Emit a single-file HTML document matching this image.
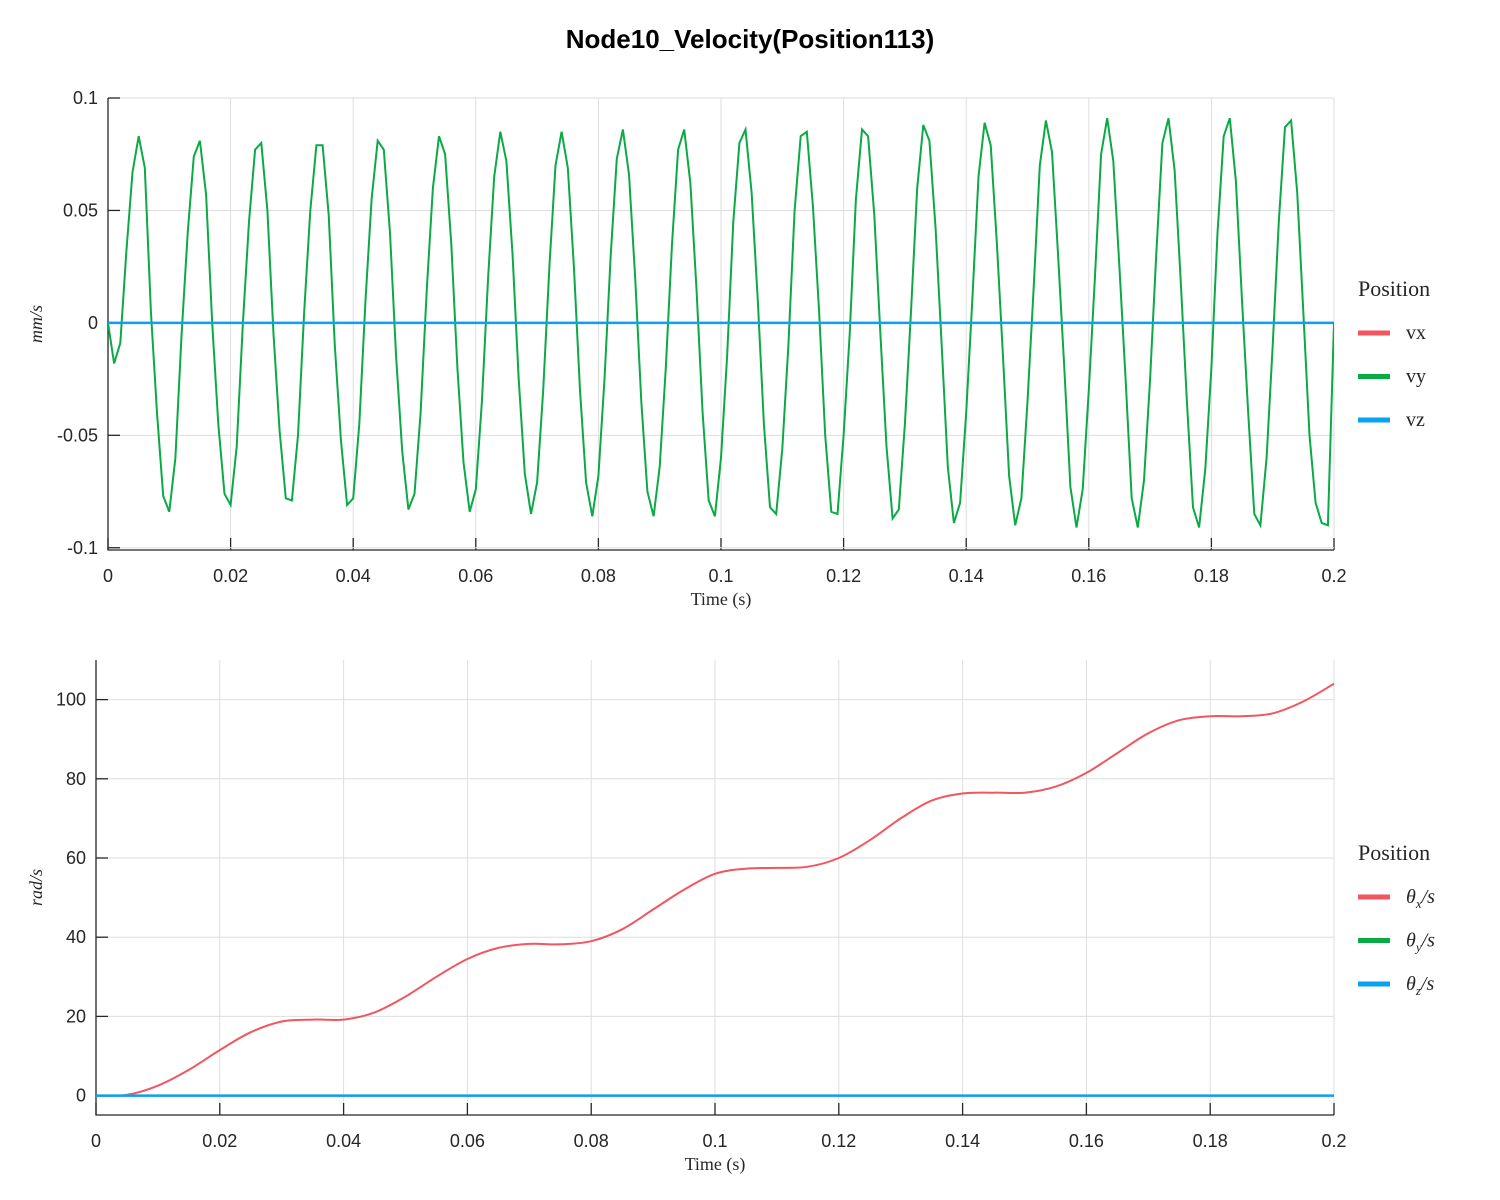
<!DOCTYPE html>
<html><head><meta charset="utf-8"><style>
body{margin:0;background:#fff;width:1500px;height:1200px;overflow:hidden}
svg{display:block}
.tk{font-family:"Liberation Sans",sans-serif;font-size:18px;fill:#262626}
.ser{font-family:"Liberation Serif",serif;fill:#262626}
</style></head><body>
<svg id="chart" width="1500" height="1200">
<text x="750" y="48" text-anchor="middle" font-family="Liberation Sans,sans-serif" font-weight="bold" font-size="26" fill="#000">Node10_Velocity(Position113)</text>
<g id="top"></g>
<g id="bot"></g>
</svg>
<script>
const timeStep = 0.001;
const vy = [0,-0.018,-0.009,0.032,0.067,0.083,0.069,0.005,-0.040,-0.077,
-0.084,-0.060,-0.005,0.040,0.074,0.081,0.057,0.000,-0.045,-0.076,
-0.081,-0.055,0.000,0.045,0.077,0.080,0.050,-0.005,-0.048,-0.078,
-0.079,-0.050,0.005,0.050,0.079,0.079,0.048,-0.010,-0.052,-0.081,
-0.078,-0.045,0.010,0.055,0.081,0.077,0.040,-0.015,-0.057,-0.083,
-0.076,-0.040,0.015,0.060,0.083,0.075,0.035,-0.020,-0.062,-0.084,
-0.074,-0.035,0.020,0.065,0.085,0.072,0.030,-0.025,-0.067,-0.085,
-0.071,-0.030,0.025,0.070,0.085,0.069,0.025,-0.030,-0.071,-0.086,
-0.068,-0.025,0.030,0.073,0.086,0.066,0.020,-0.035,-0.075,-0.086,
-0.064,-0.020,0.035,0.077,0.086,0.062,0.015,-0.040,-0.079,-0.086,
-0.060,-0.015,0.045,0.080,0.086,0.058,0.010,-0.045,-0.082,-0.085,
-0.056,-0.010,0.050,0.083,0.085,0.052,0.005,-0.050,-0.084,-0.085,
-0.050,-0.005,0.055,0.086,0.083,0.048,-0.005,-0.055,-0.087,-0.083,
-0.045,0.005,0.060,0.088,0.081,0.042,-0.010,-0.064,-0.089,-0.080,
-0.040,0.010,0.065,0.089,0.079,0.036,-0.015,-0.068,-0.090,-0.078,
-0.035,0.015,0.070,0.090,0.076,0.030,-0.020,-0.073,-0.091,-0.074,
-0.030,0.020,0.075,0.091,0.072,0.025,-0.025,-0.078,-0.091,-0.070,
-0.025,0.030,0.080,0.091,0.068,0.018,-0.035,-0.082,-0.091,-0.065,
-0.020,0.040,0.083,0.091,0.063,0.010,-0.040,-0.085,-0.090,-0.060,
-0.010,0.045,0.087,0.090,0.058,0.005,-0.050,-0.080,-0.089,-0.090,
0.000];
const thetaTime = [0,0.005,0.01,0.015,0.02,0.025,0.03,0.035,0.04,0.045,0.05,0.055,0.06,0.065,0.07,0.075,0.08,0.085,0.09,0.095,0.1,0.105,0.11,0.115,0.12,0.125,0.13,0.135,0.14,0.145,0.15,0.155,0.16,0.165,0.17,0.175,0.18,0.185,0.19,0.195,0.2];
const thetaX = [0,0.2,2.5,6.5,11.5,16,18.7,19.2,19.2,21,25,30,34.5,37.3,38.3,38.2,39,42,47,52,56,57.3,57.5,57.8,60,64.5,70,74.5,76.3,76.5,76.5,78,81.5,86.5,91.5,94.8,95.8,95.8,96.5,99.5,104];
const xTicks = [0,0.02,0.04,0.06,0.08,0.1,0.12,0.14,0.16,0.18,0.2];
const yTicksTop = [0.1,0.05,0,-0.05,-0.1];
const yTickLabelsTop = ['0.1','0.05','0','-0.05','-0.1'];
const yTicksBot = [0,20,40,60,80,100];

const NS='http://www.w3.org/2000/svg';
function mk(p,tag,attrs){const e=document.createElementNS(NS,tag);for(const k in attrs)e.setAttribute(k,attrs[k]);p.appendChild(e);return e;}
const RED='#f2565f',GREEN='#0aaa44',BLUE='#0aa1f2';

function axes(g,L,R,T,B,xmin,xmax,ymin,ymax,yt,ytl,ylab,leg,legY){
  const sx=v=>L+(v-xmin)/(xmax-xmin)*(R-L), sy=v=>B-(v-ymin)/(ymax-ymin)*(B-T);
  xTicks.forEach(t=>{
    const l=mk(g,'line',{x1:sx(t),x2:sx(t),y1:T,y2:B,stroke:'#dedede','stroke-width':1});
    
    
    mk(g,'line',{x1:sx(t),x2:sx(t),y1:B,y2:B-12,stroke:'#262626','stroke-width':1.3});
    const tx=mk(g,'text',{x:sx(t),y:B+32,'text-anchor':'middle',class:'tk'});tx.textContent=String(t);
    
    
  });
  yt.forEach((t,i)=>{
    const l=mk(g,'line',{x1:L,x2:R,y1:sy(t),y2:sy(t),stroke:'#dedede','stroke-width':1});
    
    
    mk(g,'line',{x1:L,x2:L+12,y1:sy(t),y2:sy(t),stroke:'#262626','stroke-width':1.3});
    const tx=mk(g,'text',{x:L-10,y:sy(t)+6,'text-anchor':'end',class:'tk'});tx.textContent=ytl?ytl[i]:String(t);
    
    
  });
  mk(g,'path',{d:`M${L},${T}V${B}H${R}`,fill:'none',stroke:'#262626','stroke-width':1.3});
  const xl=mk(g,'text',{x:(L+R)/2,y:B+55,'text-anchor':'middle',class:'ser','font-size':18});xl.textContent='Time (s)';
  
  
  const yl=mk(g,'text',{x:0,y:0,'text-anchor':'middle',class:'ser','font-size':18,'font-style':'italic',transform:`translate(42,${(T+B)/2}) rotate(-90)`});yl.textContent=ylab;
  
  
  const lt=mk(g,'text',{x:1358,y:legY,class:'ser','font-size':22});lt.textContent='Position';
  
  
  [RED,GREEN,BLUE].forEach((c,i)=>{
    const y=legY+37+i*43.5;
    const lg=mk(g,'g',{});
    
    
    mk(lg,'rect',{x:1358,y:y-2.5,width:32,height:5,fill:c});
    const t=mk(lg,'text',{x:1406,y:y+6,class:'ser','font-size':20,'font-style':leg[i].it?'italic':'normal'});
    t.innerHTML=leg[i].h;
  });
  return {sx,sy};
}
const gt=document.getElementById('top');
const A=axes(gt,108,1334,98,550,0,0.2,-0.101,0.1,yTicksTop,yTickLabelsTop,'mm/s',
 [{h:'vx'},{h:'vy'},{h:'vz'}],296);
const cp=mk(gt,'clipPath',{id:'c1'});mk(cp,'rect',{x:108,y:98,width:1226,height:452});
let d='';vy.forEach((v,i)=>{d+=(i?'L':'M')+A.sx(i*timeStep).toFixed(1)+','+A.sy(v).toFixed(1);});
let dz='';vy.forEach((v,i)=>{dz+=(i?'L':'M')+A.sx(i*timeStep).toFixed(1)+','+A.sy(0).toFixed(1);});
const p1=mk(gt,'path',{d:dz,fill:'none',stroke:RED,'stroke-width':2,'clip-path':'url(#c1)'});

const p2=mk(gt,'path',{d:d,fill:'none',stroke:GREEN,'stroke-width':2,'clip-path':'url(#c1)'});

const p3=mk(gt,'path',{d:dz,fill:'none',stroke:BLUE,'stroke-width':2.5,'clip-path':'url(#c1)'});

const gb=document.getElementById('bot');
const th=s=>'θ<tspan dy="5" font-size="13">'+s+'</tspan><tspan dy="-5">/s</tspan>';
const B2=axes(gb,96,1334,660,1115,0,0.2,-4.9,110,yTicksBot,null,'rad/s',
 [{h:th('x'),it:1},{h:th('y'),it:1},{h:th('z'),it:1}],860);
function smooth(xs,ys,sx,sy){
  const P=xs.map((x,i)=>[sx(x),sy(ys[i])]);let s='M'+P[0][0]+','+P[0][1];
  for(let i=0;i<P.length-1;i++){const p0=P[Math.max(0,i-1)],p1=P[i],p2=P[i+1],p3=P[Math.min(P.length-1,i+2)];
    s+=`C${(p1[0]+(p2[0]-p0[0])/6).toFixed(1)},${(p1[1]+(p2[1]-p0[1])/6).toFixed(1)} ${(p2[0]-(p3[0]-p1[0])/6).toFixed(1)},${(p2[1]-(p3[1]-p1[1])/6).toFixed(1)} ${p2[0].toFixed(1)},${p2[1].toFixed(1)}`;}
  return s;}
const q1=mk(gb,'path',{d:smooth(thetaTime,thetaX,B2.sx,B2.sy),fill:'none',stroke:RED,'stroke-width':2});

const zeroY=thetaTime.map(()=>0);
const q2=mk(gb,'path',{d:smooth(thetaTime,zeroY,B2.sx,B2.sy),fill:'none',stroke:GREEN,'stroke-width':2});

const q3=mk(gb,'path',{d:smooth(thetaTime,zeroY,B2.sx,B2.sy),fill:'none',stroke:BLUE,'stroke-width':2.5});

</script>
</body></html>
